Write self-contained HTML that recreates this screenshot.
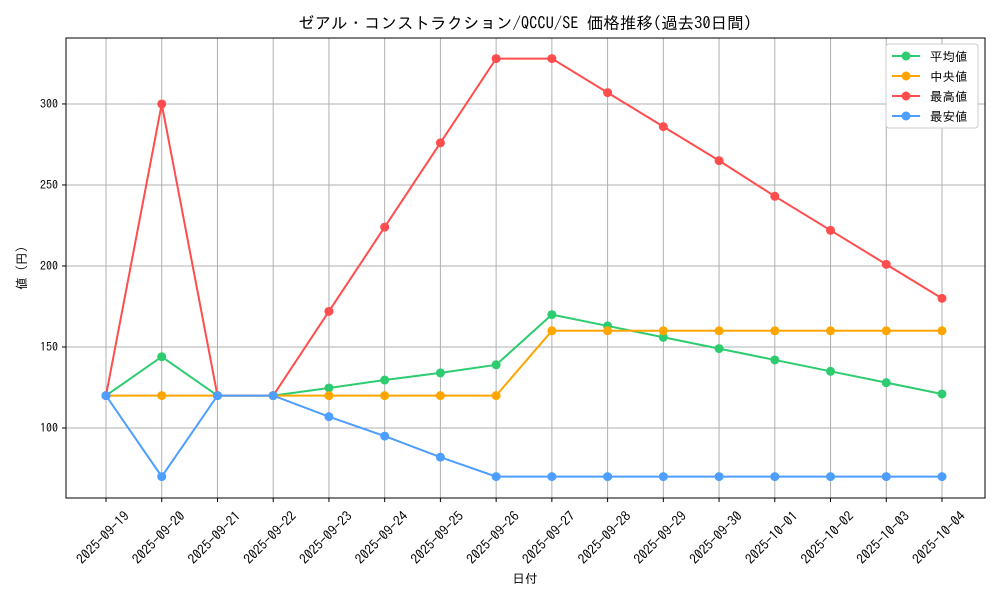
<!DOCTYPE html>
<html><head><meta charset="utf-8"><style>
body{margin:0;background:#fff;}
svg{display:block;font-family:"IPAGothic","Noto Sans CJK JP",sans-serif;}
</style></head><body>
<svg id="chart" width="1000" height="600"></svg>
<script>
const categories=["2025-09-19","2025-09-20","2025-09-21","2025-09-22","2025-09-23","2025-09-24","2025-09-25","2025-09-26","2025-09-27","2025-09-28","2025-09-29","2025-09-30","2025-10-01","2025-10-02","2025-10-03","2025-10-04"];
const meanValues=[120,144,120,120,124.7,129.6,134,139,170,163,156,149,142,135,128,121];
const medianValues=[120,120,120,120,120,120,120,120,160,160,160,160,160,160,160,160];
const maxValues=[120,300,120,120,172,224,276,328,328,307,286,265,243,222,201,180];
const minValues=[120,70,120,120,107,95,82,70,70,70,70,70,70,70,70,70];
const yTicks=[100,150,200,250,300];
const seriesNames=["平均値","中央値","最高値","最安値"];

const NS="http://www.w3.org/2000/svg";
const svg=document.getElementById('chart');
const L=66,R=985,T=38,B=498,yMin=56.8,yMax=340.7;
const xs=i=>106+i*(942-106)/(categories.length-1);
const ys=v=>B-(v-yMin)/(yMax-yMin)*(B-T);
function el(t,a,p){const e=document.createElementNS(NS,t);for(const k in a)e.setAttribute(k,a[k]);(p||svg).appendChild(e);return e;}

const grid=el('g',{});


categories.forEach((c,i)=>{el('line',{x1:xs(i),x2:xs(i),y1:T,y2:B,stroke:'#b0b0b0','stroke-width':1},grid);});
yTicks.forEach(v=>{el('line',{x1:L,x2:R,y1:ys(v),y2:ys(v),stroke:'#b0b0b0','stroke-width':1},grid);});

const xa=el('g',{});


categories.forEach((c,i)=>{
  el('line',{x1:xs(i),x2:xs(i),y1:B,y2:B+4,stroke:'#000'},xa);
  const px=xs(i)+24, py=B+19;
  const t=el('text',{x:px,y:py,'font-size':13.5,'text-anchor':'end',transform:`rotate(-45 ${px} ${py})`},xa);
  t.textContent=c;
  
  
});
const ya=el('g',{});


yTicks.forEach(v=>{
  el('line',{x1:L-4,x2:L,y1:ys(v),y2:ys(v),stroke:'#000'},ya);
  const t=el('text',{x:L-8,y:ys(v)+4,'font-size':12,'text-anchor':'end'},ya);
  t.textContent=v;
  
  
});
el('rect',{x:L,y:T,width:R-L,height:B-T,fill:'none',stroke:'#000','stroke-width':1});

const colors=['#2ecc71','#ffa500','#ff4d4d','#4d9eff'];
const data=[meanValues,medianValues,maxValues,minValues];
const names=['series-mean','series-median','series-max','series-min'];
data.forEach((vals,si)=>{
  const g=el('g',{});
  
  
  el('polyline',{points:vals.map((v,i)=>xs(i)+','+ys(v)).join(' '),fill:'none',stroke:colors[si],'stroke-width':2},g);
  vals.forEach((v,i)=>{
    const c=el('circle',{cx:xs(i),cy:ys(v),r:4.5,fill:colors[si]},g);
    
    
  });
});

const lg=el('g',{});


el('rect',{x:886,y:44,width:92,height:84,fill:'#fff',stroke:'#ccc',rx:3},lg);
seriesNames.forEach((n,i)=>{
  const y=56+i*20;
  const e=el('g',{},lg);
  
  
  el('line',{x1:892,x2:920,y1:y,y2:y,stroke:colors[i],'stroke-width':2},e);
  el('circle',{cx:906,cy:y,r:4.5,fill:colors[i]},e);
  const t=el('text',{x:930,y:y+5,'font-size':12.5},e);t.textContent=(i==1?' ':'')+n;
});

const title=el('text',{x:525,y:29,'font-size':16.5,'text-anchor':'middle'});
title.textContent='ゼアル・コンストラクション/QCCU/SE 価格推移(過去30日間)';


const xt=el('text',{x:525,y:583,'font-size':12.5,'text-anchor':'middle'});
xt.textContent='日付';


const yt=el('text',{x:26,y:268,'font-size':12.5,'text-anchor':'middle',transform:'rotate(-90 26 268)'});
yt.textContent='値 (円)';


</script>
</body></html>
